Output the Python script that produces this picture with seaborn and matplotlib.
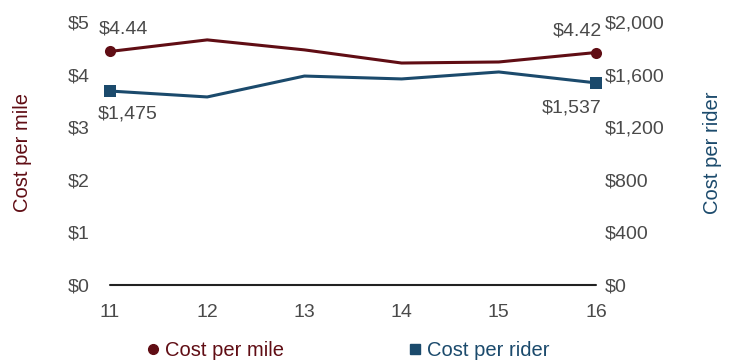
import matplotlib
matplotlib.use("Agg")
import matplotlib.pyplot as plt
import seaborn as sns
import pandas as pd

years = [11, 12, 13, 14, 15, 16]
cost_per_mile = [4.44, 4.66, 4.47, 4.22, 4.24, 4.42]
cost_per_rider = [1475, 1430, 1589, 1567, 1620, 1537]
mile_ticks = [0, 1, 2, 3, 4, 5]
rider_ticks = [0, 400, 800, 1200, 1600, 2000]

MAROON = "#600d14"
BLUE = "#1b4a6c"
TEXT = "#4a4a4a"
FS = 14

sns.set_theme(style="white")
plt.rcParams["font.family"] = ["Liberation Sans", "DejaVu Sans"]

df = pd.DataFrame({"year": years, "mile": cost_per_mile, "rider": cost_per_rider})

fig = plt.figure(figsize=(7.43, 3.62), dpi=100)
ax = fig.add_axes([110 / 743, 77 / 362, 486 / 743, 263 / 362])
ax2 = ax.twinx()

sns.lineplot(data=df, x="year", y="mile", ax=ax, color=MAROON, linewidth=2.2,
             marker="o", markersize=8, markevery=[0, 5], markeredgewidth=0,
             clip_on=False)
sns.lineplot(data=df, x="year", y="rider", ax=ax2, color=BLUE, linewidth=2.2,
             marker="s", markersize=8, markevery=[0, 5], markeredgewidth=0,
             clip_on=False)

ax.set_xlim(11, 16)
ax.set_ylim(0, 5)
ax2.set_ylim(0, 2000)
ax.set_xticks(years)
ax.set_xticklabels([str(y) for y in years])
ax.set_yticks(mile_ticks)
ax.set_yticklabels([f"${v}" for v in mile_ticks])
ax2.set_yticks(rider_ticks)
ax2.set_yticklabels([f"${v:,}" for v in rider_ticks])

for a in (ax, ax2):
    a.set_xlabel("")
    a.set_ylabel("")
    for s in ("top", "left", "right", "bottom"):
        a.spines[s].set_visible(False)
    a.grid(False)
    a.tick_params(axis="both", length=0, labelsize=FS, labelcolor=TEXT)
ax.tick_params(axis="y", pad=14.4)
ax.tick_params(axis="x", pad=14)
ax2.tick_params(axis="y", pad=6.5)
ax.axhline(0, color="#222222", linewidth=1.5, clip_on=False)

ann = dict(textcoords="offset pixels", fontsize=FS, color=TEXT, ha="center", va="center")
ax.annotate(f"${cost_per_mile[0]:.2f}", (years[0], cost_per_mile[0]), xytext=(13, 22), **ann)
ax.annotate(f"${cost_per_mile[-1]:.2f}", (years[-1], cost_per_mile[-1]), xytext=(-19, 22), **ann)
ax2.annotate(f"${cost_per_rider[0]:,}", (years[0], cost_per_rider[0]), xytext=(18, -23), **ann)
ax2.annotate(f"${cost_per_rider[-1]:,}", (years[-1], cost_per_rider[-1]), xytext=(-24, -25), **ann)

fig.text(23 / 743, 1 - 153 / 362, "Cost per mile", rotation=90, color=MAROON,
         fontsize=14.5, ha="center", va="center")
fig.text(712 / 743, 1 - 153 / 362, "Cost per rider", rotation=90, color=BLUE,
         fontsize=14.5, ha="center", va="center")

h1 = plt.Line2D([], [], color=MAROON, marker="o", linestyle="none", markersize=7)
h2 = plt.Line2D([], [], color=BLUE, marker="s", linestyle="none", markersize=7)
leg = fig.legend([h1, h2], ["Cost per mile", "Cost per rider"], ncol=2,
                 loc="center", bbox_to_anchor=(348 / 743, 1 - 351 / 362),
                 frameon=False, fontsize=14.5, handlelength=0.6, handletextpad=0.3,
                 columnspacing=6.2, borderpad=0)
for t, c in zip(leg.get_texts(), (MAROON, BLUE)):
    t.set_color(c)

fig.savefig("out.png", dpi=100)
